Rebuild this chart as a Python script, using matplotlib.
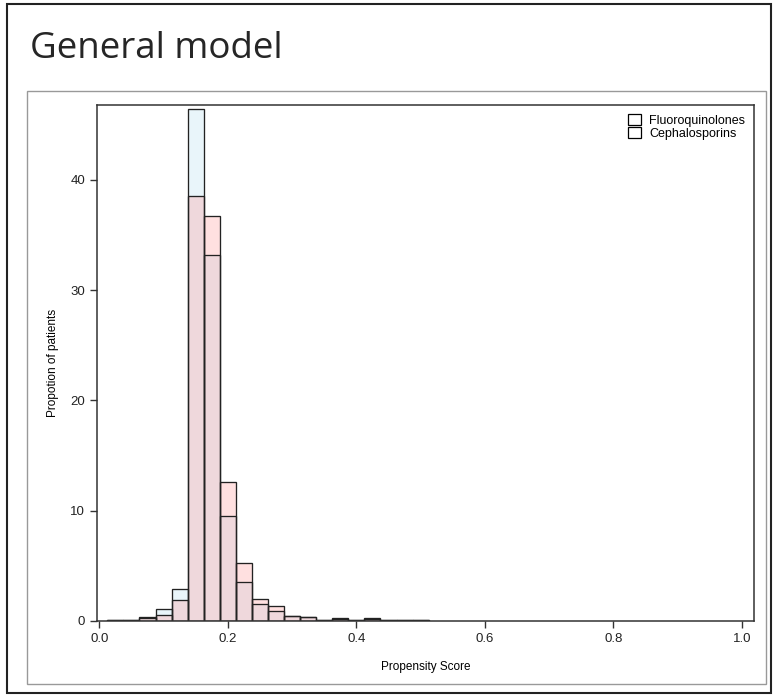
import matplotlib
matplotlib.use("Agg")
import matplotlib.pyplot as plt
from matplotlib.patches import Rectangle, Patch

# Data (bin midpoints, width 0.025)
midpoints = [0.025, 0.05, 0.075, 0.1, 0.125, 0.15, 0.175, 0.2, 0.225, 0.25,
             0.275, 0.3, 0.325, 0.35, 0.375, 0.4, 0.425, 0.45, 0.475, 0.5]
fluoroquinolones = [0.05, 0.1, 0.3, 1.1, 2.9, 46.4, 33.2, 9.5, 3.5, 1.55,
                    0.9, 0.45, 0.3, 0.1, 0.15, 0.05, 0.15, 0.05, 0.1, 0.05]
cephalosporins = [0.03, 0.1, 0.25, 0.5, 1.85, 38.5, 36.7, 12.6, 5.25, 1.95,
                  1.3, 0.4, 0.35, 0.1, 0.2, 0.05, 0.2, 0.05, 0.1, 0.02]
bin_width = 0.025
series_labels = ["Fluoroquinolones", "Cephalosporins"]
x_ticks = [0.0, 0.2, 0.4, 0.6, 0.8, 1.0]
y_ticks = [0, 10, 20, 30, 40]

W, H = 775, 697
fig = plt.figure(figsize=(W / 100, H / 100), dpi=100)
fig.patch.set_facecolor("white")

# outer frame
fig.add_artist(Rectangle((7 / W, 1 - 693 / H), (771 - 7) / W, (693 - 4) / H,
                         transform=fig.transFigure, fill=False,
                         edgecolor="#222222", linewidth=1.5))
# inner panel
fig.add_artist(Rectangle((27 / W, 1 - 684 / H), (766 - 27) / W, (684 - 91) / H,
                         transform=fig.transFigure, fill=False,
                         edgecolor="#999999", linewidth=1.0))

fig.text(30 / W, 1 - 49 / H, "General model", fontsize=26.5, family="Open Sans",
         color="#262626", va="center", ha="left")

ax = fig.add_axes([97 / W, 1 - 620.7 / H, (754 - 97) / W, (620.7 - 105) / H])

ax.bar(midpoints, fluoroquinolones, width=bin_width, color="#a8d8ee", alpha=0.25,
       edgecolor="black", linewidth=0.9)
ax.bar(midpoints, cephalosporins, width=bin_width, color="#ff9090", alpha=0.28,
       edgecolor="black", linewidth=0.9)
# redraw edges fully opaque
ax.bar(midpoints, fluoroquinolones, width=bin_width, fill=False,
       edgecolor="#222222", linewidth=0.9)
ax.bar(midpoints, cephalosporins, width=bin_width, fill=False,
       edgecolor="#222222", linewidth=0.9)

ax.set_xlim(-0.0036, 1.0187)
ax.set_ylim(0, 46.8)
ax.set_xticks(x_ticks)
ax.set_xticklabels([f"{v:.1f}" for v in x_ticks])
ax.set_yticks(y_ticks)
for lab in ax.get_xticklabels() + ax.get_yticklabels():
    lab.set_family("Liberation Sans")
    lab.set_fontsize(9.5)
ax.tick_params(direction="out", length=5, width=1, color="#333333", labelcolor="#222222")
for s in ax.spines.values():
    s.set_color("#333333")
    s.set_linewidth(1.1)

ax.set_xlabel("Propensity Score", family="Liberation Sans", fontsize=8.5, labelpad=12)
ax.set_ylabel("Propotion of patients", family="Liberation Sans", fontsize=8.5, labelpad=8)

handles = [Patch(facecolor="white", edgecolor="black", linewidth=0.9) for _ in series_labels]
leg = ax.legend(handles, series_labels, loc="upper right", frameon=False,
                prop={"family": "Liberation Sans", "size": 9},
                handlelength=1.0, handleheight=1.0, handletextpad=0.7,
                labelspacing=0.0, borderaxespad=0.3)

fig.savefig("out.png", dpi=100)
